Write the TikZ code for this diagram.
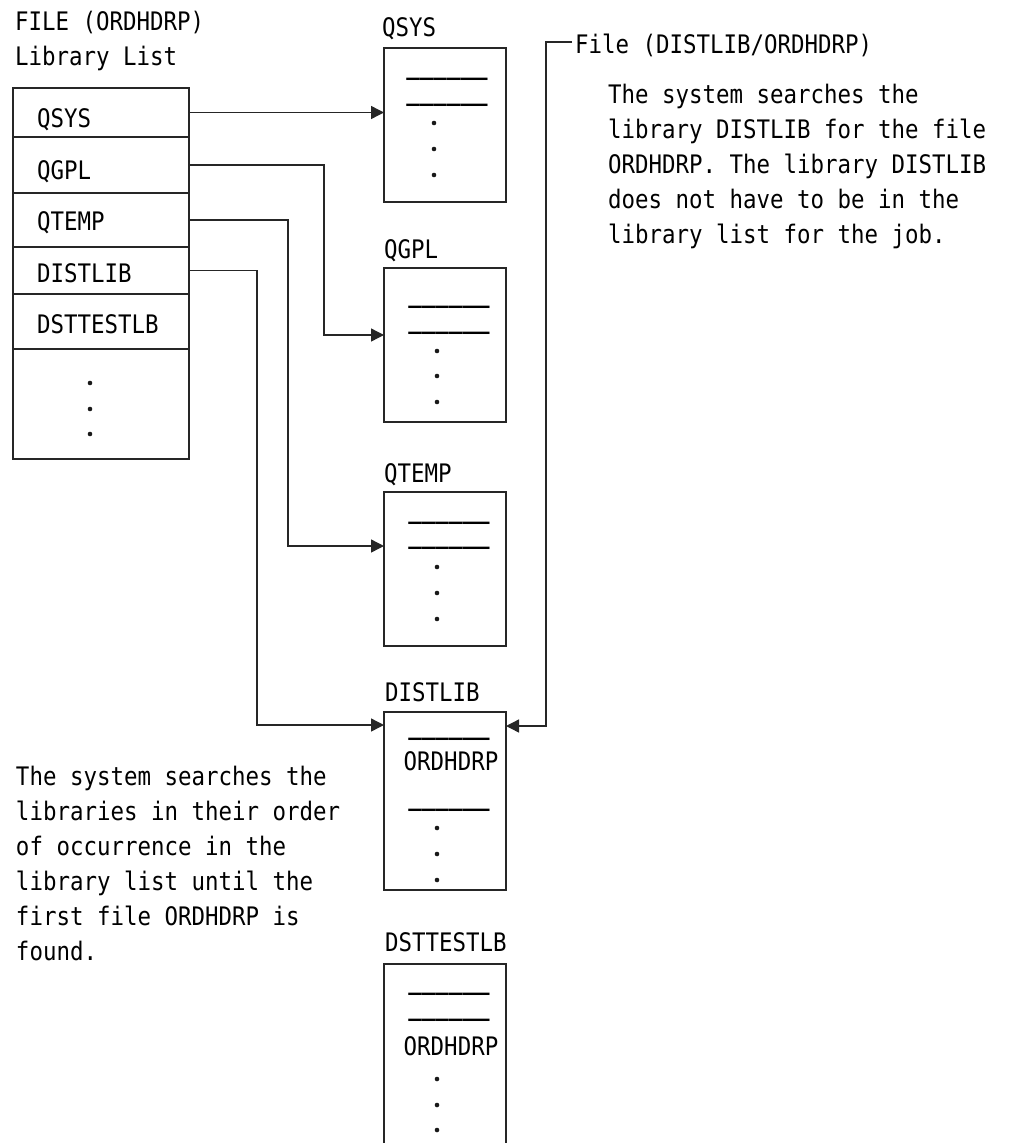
\documentclass[tikz,border=0pt]{standalone}
\usepackage{fontspec}
\setmonofont{DejaVu Sans Mono}[FakeStretch=0.88]
\usetikzlibrary{arrows.meta}
\tikzset{
  txt/.style={anchor=base west, inner sep=0pt, outer sep=0pt},
  ctxt/.style={anchor=base, inner sep=0pt, outer sep=0pt},
  libbox/.style={draw=black!85, line width=1.4pt, inner sep=0pt, outer sep=0pt, anchor=north west, minimum width=122pt},
  rowbox/.style={draw=black!85, line width=1.4pt, inner sep=0pt, outer sep=0pt, anchor=north west, minimum width=176pt},
  conn/.style={draw=black!85, line width=1.4pt, -{Triangle[length=13pt,width=13pt]}},
  recdot/.style={fill=black!90},
}
\newcommand{\uline}{{\bfseries\_\_\_\_\_\_}}
\begin{document}
\begin{tikzpicture}[x=1pt,y=-1pt,font=\ttfamily\fontsize{25.5}{35}\selectfont]
\useasboundingbox (0,0) rectangle (1023,1143);
\clip (0,0) rectangle (1023,1143);

% title
\node[txt] (t1) at (15,30) {FILE (ORDHDRP)};
\node[txt] (t2) at (15,65) {Library List};

% library list rows
\node[rowbox, minimum height=49pt]  (r1) at (13,88)  {};
\node[rowbox, minimum height=56pt]  (r2) at (13,137) {};
\node[rowbox, minimum height=54pt]  (r3) at (13,193) {};
\node[rowbox, minimum height=47pt]  (r4) at (13,247) {};
\node[rowbox, minimum height=55pt]  (r5) at (13,294) {};
\node[rowbox, minimum height=110pt] (r6) at (13,349) {};
\node[txt] (l1) at (37,127) {QSYS};
\node[txt] (l2) at (37,179) {QGPL};
\node[txt] (l3) at (37,230) {QTEMP};
\node[txt] (l4) at (37,282) {DISTLIB};
\node[txt] (l5) at (37,333) {DSTTESTLB};
\foreach \yy in {383,409,434} \fill[recdot] (90,\yy) circle (2.3pt);

% library boxes
\node[txt] (n1) at (382,36) {QSYS};
\node[libbox, minimum height=154pt] (bqsys) at (384,48) {};
\node[ctxt] (u11) at (447,74) {\uline};
\node[ctxt] (u12) at (447,100) {\uline};
\foreach \yy in {123,149,175} \fill[recdot] (434,\yy) circle (2.3pt);

\node[txt] (n2) at (384,258) {QGPL};
\node[libbox, minimum height=154pt] (bqgpl) at (384,268) {};
\node[ctxt] (u21) at (449,302) {\uline};
\node[ctxt] (u22) at (449,328) {\uline};
\foreach \yy in {351,376,402} \fill[recdot] (437,\yy) circle (2.3pt);

\node[txt] (n3) at (384,482) {QTEMP};
\node[libbox, minimum height=154pt] (bqtemp) at (384,492) {};
\node[ctxt] (u31) at (449,518) {\uline};
\node[ctxt] (u32) at (449,543) {\uline};
\foreach \yy in {567,593,619} \fill[recdot] (437,\yy) circle (2.3pt);

\node[txt] (n4) at (385,701) {DISTLIB};
\node[libbox, minimum height=178pt] (bdist) at (384,712) {};
\node[ctxt] (u41) at (449,734) {\uline};
\node[ctxt] (o4) at (451,770) {ORDHDRP};
\node[ctxt] (u42) at (449,805) {\uline};
\foreach \yy in {828,854,880} \fill[recdot] (437,\yy) circle (2.3pt);

\node[txt] (n5) at (385,951) {DSTTESTLB};
\node[libbox, minimum height=220pt] (bdst) at (384,964) {};
\node[ctxt] (u51) at (449,989) {\uline};
\node[ctxt] (u52) at (449,1015) {\uline};
\node[ctxt] (o5) at (451,1055) {ORDHDRP};
\foreach \yy in {1079,1105,1130} \fill[recdot] (437,\yy) circle (2.3pt);

% connectors from library list
\draw[conn] (r1.east) -- (r1.east -| bqsys.west);
\draw[conn] (r2.east) -- ++(135,0) |- ([yshift=-67pt]bqgpl.north west);
\draw[conn] (r3.east) -- ++(99,0) |- ([yshift=-54pt]bqtemp.north west);
\draw[conn] (r4.east) -- ++(68,0) |- ([yshift=-13pt]bdist.north west);

% qualified file name
\node[txt] (fq) at (575,53) {File (DISTLIB/ORDHDRP)};
\coordinate (fqs) at ([xshift=-3pt,yshift=11pt]fq.base west);
\draw[conn] (fqs) -- ++(-26,0) |- ([yshift=-14pt]bdist.north east);

\foreach \t [count=\i from 0] in {The system searches the,library DISTLIB for the file,ORDHDRP. The library DISTLIB,does not have to be in the,library list for the job.}
  \node[txt] (pa\i) at (608,103+35*\i) {\t};

\foreach \t [count=\i from 0] in {The system searches the,libraries in their order,of occurrence in the,library list until the,first file ORDHDRP is,found.}
  \node[txt] (pb\i) at (16,785+35*\i) {\t};
\end{tikzpicture}
\end{document}
